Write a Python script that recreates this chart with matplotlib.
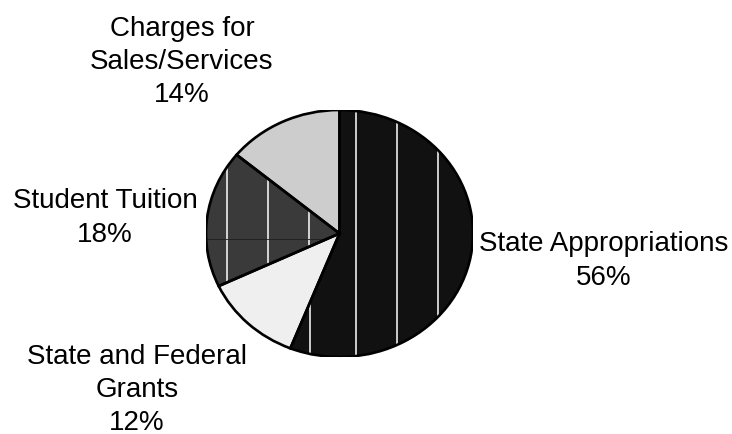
import numpy as np
import matplotlib
matplotlib.use("Agg")
import matplotlib.pyplot as plt
from matplotlib.patches import Wedge

# revenue shares, clockwise from 12 o'clock
labels = ["State Appropriations", "State and Federal\nGrants",
          "Student Tuition", "Charges for\nSales/Services"]
shares = [56, 12, 18, 14]
colors = ["#111111", "#efefef", "#3a3a3a", "#cdcdcd"]

# where each label block sits (pixel centre, y from top)
label_pos = [(604, 261), (137, 390), (105, 218), (182, 62)]

W, H = 732, 435
fig = plt.figure(figsize=(W / 100, H / 100), dpi=100)
plt.rcParams['font.family'] = ['Liberation Sans', 'DejaVu Sans']

# pie box in pixels: left, right, top, bottom
pl, pr, pt, pb = 206, 473, 111, 358
ax = fig.add_axes([pl / W, 1 - pb / H, (pr - pl) / W, (pb - pt) / H])

wedges, _ = ax.pie(shares, colors=colors, startangle=90, counterclock=False,
                   radius=1.0, wedgeprops=dict(linewidth=0))
ax.set_aspect("auto")
ax.set_xlim(-1, 1)
ax.set_ylim(-1, 1)
ax.axis("off")

def px_to_x(px):
    return (px - (pl + pr) / 2) / ((pr - pl) / 2)

def py_to_y(py):
    return ((pt + pb) / 2 - py) / ((pb - pt) / 2)

# white vertical stripes in the two dark slices
stripes = {0: [310, 356, 397, 438], 2: [227, 268, 309]}
for i, xs in stripes.items():
    for px in xs:
        ln, = ax.plot([px_to_x(px)] * 2, [-1.1, 1.1], color="white", lw=1.1,
                      zorder=3)
        ln.set_clip_path(wedges[i])

# faint horizontal seam in the tuition slice
seam, = ax.plot([-1.1, 0], [py_to_y(240)] * 2, color="#1e1e1e", lw=0.6,
                zorder=3)
seam.set_clip_path(wedges[2])

# outlines over the stripes
for w in wedges:
    ax.add_patch(Wedge(w.center, w.r, w.theta1, w.theta2, facecolor="none",
                       edgecolor="black", linewidth=1.9, zorder=4))

for lab, pct, (x, y) in zip(labels, shares, label_pos):
    fig.text(x / W, 1 - y / H, f"{lab}\n{pct}%", ha="center", va="center",
             multialignment="center", fontsize=20, linespacing=1.37)

fig.savefig("out.png", dpi=100)
